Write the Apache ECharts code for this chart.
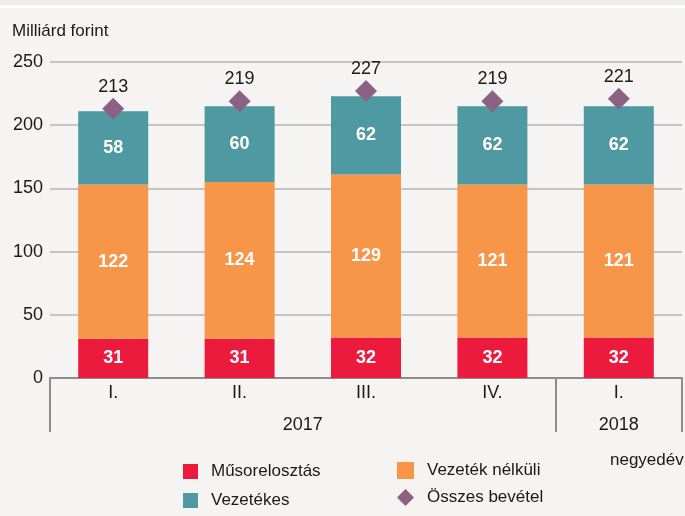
<!DOCTYPE html>
<html>
<head>
<meta charset="utf-8">
<script src="https://cdn.jsdelivr.net/npm/echarts@6/dist/echarts.min.js"></script>
<style>
  html, body { margin: 0; padding: 0; background: #f5f4f2; }
  #chart { width: 685px; height: 516px; }
</style>
</head>
<body>
<div id="chart"></div>
<script>
var quarters = ['I.', 'II.', 'III.', 'IV.', 'I.'];
var years = ['2017', '2018'];
var musor = [31, 31, 32, 32, 32];
var nelkuli = [122, 124, 129, 121, 121];
var vezetekes = [58, 60, 62, 62, 62];
var osszes = [213, 219, 227, 219, 221];

var font = '"Liberation Sans", Arial, sans-serif';

var myChart = echarts.init(document.getElementById('chart'));

var barLabel = {
    show: true,
    position: 'inside',
    color: '#fff',
    fontWeight: 'bold',
    fontSize: 18,
    fontFamily: font
};

var option = {
    backgroundColor: '#f5f4f2',
    animation: false,
    textStyle: { fontFamily: font },
    graphic: [
        { type: 'rect', left: 0, top: 0, shape: { width: 685, height: 5 }, style: { fill: '#eeedeb' } },
        { type: 'rect', left: 0, top: 5, shape: { width: 685, height: 3 }, style: { fill: '#ffffff' } }
    ],
    title: [
        { text: 'Milliárd forint', left: 12, top: 23, padding: 0, textStyle: { fontSize: 17, fontWeight: 'normal', color: '#1a1a1a', fontFamily: font } },
        { text: 'negyedév', left: 610, top: 452, padding: 0, textStyle: { fontSize: 17, fontWeight: 'normal', color: '#1a1a1a', fontFamily: font } }
    ],
    legend: [
        {
            left: 181, top: 461, height: 70, orient: 'vertical', itemGap: 12, padding: 2,
            itemWidth: 15, itemHeight: 15,
            textStyle: { fontSize: 17, color: '#1a1a1a', fontFamily: font, padding: [0, 0, 0, 8] },
            data: [{ name: 'Műsorelosztás', icon: 'rect' }, { name: 'Vezetékes', icon: 'rect' }]
        },
        {
            left: 395, top: 460, height: 70, orient: 'vertical', itemGap: 10, padding: 2,
            itemWidth: 17, itemHeight: 17,
            textStyle: { fontSize: 17, color: '#1a1a1a', fontFamily: font, padding: [0, 0, 0, 8] },
            data: [{ name: 'Vezeték nélküli', icon: 'rect' }, { name: 'Összes bevétel', icon: 'diamond' }]
        }
    ],
    grid: { left: 50, right: 3, top: 62, bottom: 138 },
    xAxis: [
        {
            type: 'category',
            data: quarters,
            axisLine: { lineStyle: { color: '#8c8c8c', width: 2 } },
            axisTick: { length: 24, lineStyle: { color: '#8c8c8c', width: 2 } },
            axisLabel: { margin: 6, fontSize: 18, color: '#1a1a1a', fontFamily: font }
        },
        {
            type: 'value',
            position: 'bottom',
            min: 0,
            max: 5,
            splitLine: { show: false },
            axisLine: { show: false },
            axisTick: { show: true, length: 54, customValues: [0, 4, 5], lineStyle: { color: '#8c8c8c', width: 2 } },
            axisLabel: {
                margin: 38, fontSize: 18, color: '#1a1a1a', fontFamily: font,
                customValues: [2, 4.5],
                formatter: function (v) { return v < 4 ? years[0] : years[1]; }
            }
        }
    ],
    yAxis: {
        type: 'value',
        min: 0,
        max: 250,
        interval: 50,
        axisLine: { show: false },
        axisTick: { show: false },
        axisLabel: { margin: 7, fontSize: 18, color: '#1a1a1a', fontFamily: font },
        splitLine: { lineStyle: { color: '#b5b5b5', width: 1.5 } }
    },
    series: [
        {
            name: 'Műsorelosztás', type: 'bar', stack: 'a', barWidth: 70,
            itemStyle: { color: '#ec1b3d' }, label: barLabel, data: musor
        },
        {
            name: 'Vezeték nélküli', type: 'bar', stack: 'a', barWidth: 70,
            itemStyle: { color: '#f79548' }, label: barLabel, data: nelkuli
        },
        {
            name: 'Vezetékes', type: 'bar', stack: 'a', barWidth: 70,
            itemStyle: { color: '#4e99a2' }, label: barLabel, data: vezetekes
        },
        {
            name: 'Összes bevétel', type: 'scatter', symbol: 'diamond', symbolSize: 22,
            itemStyle: { color: '#8b6283', opacity: 1 },
            label: { show: true, position: 'top', distance: 2, fontSize: 18, color: '#1a1a1a', fontFamily: font },
            data: osszes,
            z: 5
        }
    ]
};

myChart.setOption(option);
</script>
</body>
</html>
